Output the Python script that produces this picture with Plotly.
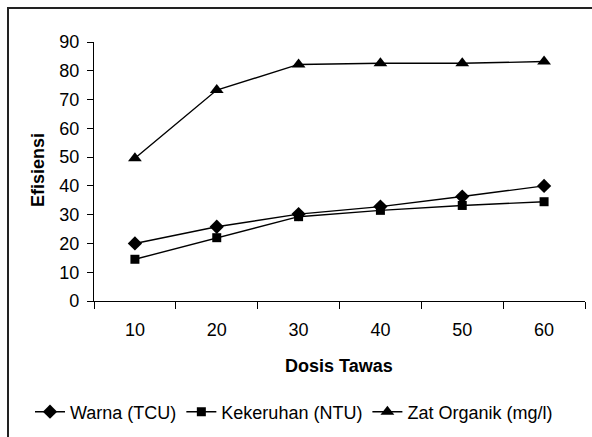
import plotly.graph_objects as go

dosis = ["10", "20", "30", "40", "50", "60"]
warna = [20.0, 25.8, 30.2, 32.8, 36.3, 40.0]
kekeruhan = [14.5, 22.0, 29.3, 31.5, 33.2, 34.5]
zat_organik = [49.6, 73.3, 82.2, 82.6, 82.6, 83.2]

series = [
    ("Warna (TCU)", warna, "diamond", 11),
    ("Kekeruhan (NTU)", kekeruhan, "square", 9),
    ("Zat Organik (mg/l)", zat_organik, "triangle-up", 12),
]

fig = go.Figure()
for name, vals, sym, sz in series:
    fig.add_trace(go.Scatter(
        x=dosis, y=vals, name=name, mode="lines+markers",
        line=dict(color="black", width=1.4),
        marker=dict(symbol=sym, size=sz, color="black"),
    ))

FONT = "Liberation Sans"
L, R, T, B = 94, 7, 42, 136
W, H = 592, 437
pw, ph = W - L - R, H - T - B

def px_x(p):
    return (p - L) / pw

def px_y(p):
    return (H - B - p) / ph

fig.update_layout(
    width=W, height=H,
    margin=dict(l=L, r=R, t=T, b=B, autoexpand=False),
    paper_bgcolor="white", plot_bgcolor="white",
    font=dict(family=FONT, size=18, color="black"),
    showlegend=True,
    legend=dict(
        orientation="h",
        x=px_x(30), xanchor="left",
        y=px_y(412), yanchor="middle",
        font=dict(size=18), itemwidth=30, tracegroupgap=0,
        bgcolor="rgba(0,0,0,0)",
    ),
    xaxis=dict(
        type="category", range=[-0.5, 5.5], tickson="boundaries",
        ticks="outside", ticklen=7, tickwidth=1.4, tickcolor="black",
        showline=True, linecolor="black", linewidth=1.4,
        showgrid=False, zeroline=False,
        tickfont=dict(size=18), ticklabelstandoff=12,
    ),
    yaxis=dict(
        range=[0, 90], dtick=10, tick0=0,
        ticks="outside", ticklen=6, tickwidth=1.4, tickcolor="black",
        showline=True, linecolor="black", linewidth=1.4,
        showgrid=False, zeroline=False,
        tickfont=dict(size=18), ticklabelstandoff=4,
    ),
    annotations=[
        dict(text="<b>Dosis Tawas</b>", xref="paper", yref="paper",
             x=px_x(339), y=px_y(366), xanchor="center", yanchor="middle",
             showarrow=False, font=dict(size=18)),
        dict(text="<b>Efisiensi</b>", xref="paper", yref="paper",
             x=px_x(38), y=px_y(170), xanchor="center", yanchor="middle",
             textangle=-90, showarrow=False, font=dict(size=18)),
    ],
    shapes=[
        dict(type="rect", xref="paper", yref="paper",
             x0=px_x(8), y0=px_y(460), x1=px_x(620), y1=px_y(8),
             line=dict(color="#222", width=2), layer="below"),
    ],
)

fig.write_html("out.html")
